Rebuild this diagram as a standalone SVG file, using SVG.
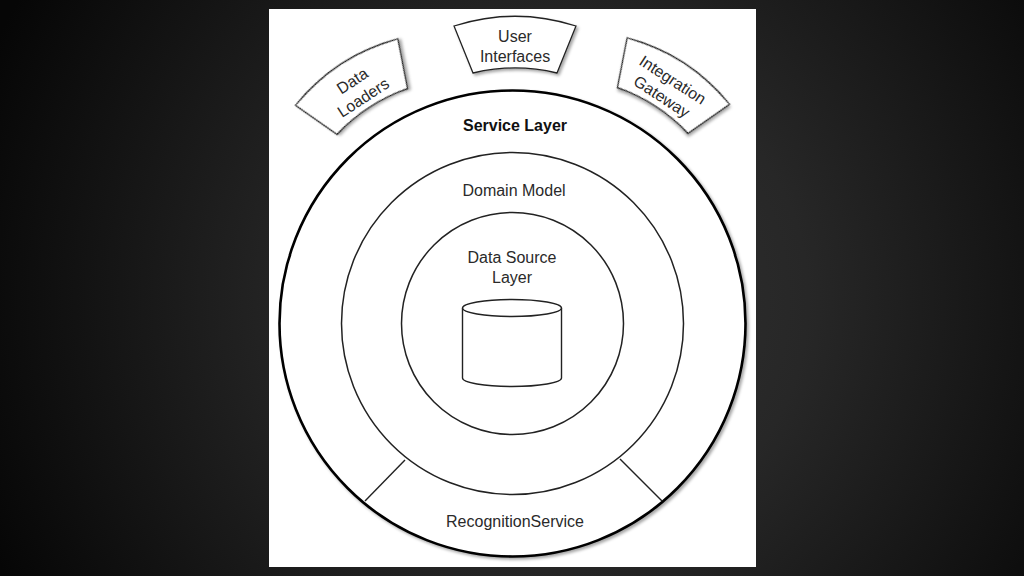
<svg xmlns="http://www.w3.org/2000/svg" width="1024" height="576" viewBox="0 0 1024 576">
  <defs>
    <radialGradient id="bg" cx="560" cy="300" r="620" gradientUnits="userSpaceOnUse">
      <stop offset="0" stop-color="#333333"/>
      <stop offset="0.4" stop-color="#272727"/>
      <stop offset="1" stop-color="#060606"/>
    </radialGradient>
    <filter id="shadow" x="-10%" y="-10%" width="120%" height="120%">
      <feDropShadow dx="2" dy="2" stdDeviation="1.8" flood-color="#000" flood-opacity="0.35"/>
    </filter>
    <path id="tabShape" d="M -61,-19 A 200 200 0 0 1 61,-19 L 42,28 A 180 180 0 0 0 -42,28 Z"/>
  </defs>
  <style>
    .ring { fill: none; stroke: #222; stroke-width: 1.5; }
    .outer { fill: #fff; stroke: #000; stroke-width: 2.6; }
    .tab { fill: #fff; stroke: #222; stroke-width: 1.3; }
    .lbl { font-family: "Liberation Sans", Arial, sans-serif; font-size: 16px; fill: #2a2a2a; text-anchor: middle; }
    .bold { font-weight: bold; fill: #111; }
    .div { stroke: #222; stroke-width: 1.4; }
  </style>

  <rect x="0" y="0" width="1024" height="576" fill="url(#bg)"/>
  <rect x="269" y="9" width="487" height="558" fill="#ffffff"/>

  <g id="service-layer">
    <circle class="outer" cx="512.5" cy="323.5" r="233" filter="url(#shadow)"/>
    <text class="lbl bold" x="515" y="131">Service Layer</text>
  </g>

  <g id="domain-model">
    <circle class="ring" cx="512.5" cy="323.5" r="171"/>
    <text class="lbl" x="514" y="196">Domain Model</text>
  </g>

  <g id="data-source-layer">
    <circle class="ring" cx="512.5" cy="323.5" r="111"/>
    <text class="lbl" x="512" y="263">Data Source</text>
    <text class="lbl" x="512" y="283">Layer</text>
  </g>

  <g id="database">
    <path d="M 462.5,308 L 462.5,378 A 49.5 8.5 0 0 0 561.5,378 L 561.5,308" fill="#fff" stroke="#222" stroke-width="1.4"/>
    <ellipse cx="512" cy="308" rx="49.5" ry="8.5" fill="#fff" stroke="#222" stroke-width="1.4"/>
  </g>

  <g id="connectors">
    <line class="div" x1="365" y1="501" x2="405" y2="460"/>
    <line class="div" x1="620" y1="459" x2="662" y2="501"/>
  </g>

  <g id="recognition-service">
    <text class="lbl" x="515" y="527">RecognitionService</text>
  </g>

  <g id="user-interfaces" transform="translate(515,45)">
    <use href="#tabShape" class="tab" filter="url(#shadow)"/>
    <text class="lbl" x="0" y="-3">User</text>
    <text class="lbl" x="0" y="17">Interfaces</text>
  </g>

  <g id="data-loaders" transform="translate(357,88) rotate(-33)">
    <use href="#tabShape" class="tab" filter="url(#shadow)"/>
    <text class="lbl" x="0" y="-3">Data</text>
    <text class="lbl" x="0" y="17">Loaders</text>
  </g>

  <g id="integration-gateway" transform="translate(668,87) rotate(33)">
    <use href="#tabShape" class="tab" filter="url(#shadow)"/>
    <text class="lbl" x="0" y="-3">Integration</text>
    <text class="lbl" x="0" y="17">Gateway</text>
  </g>
</svg>
